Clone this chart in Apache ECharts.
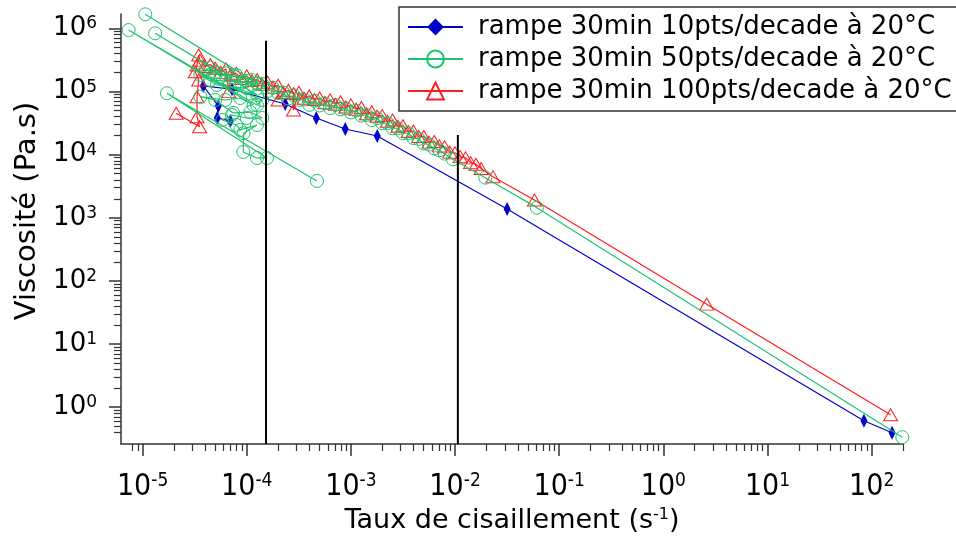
<!DOCTYPE html>
<html><head><meta charset="utf-8">
<script src="https://cdn.jsdelivr.net/npm/echarts@6/dist/echarts.min.js"></script>
<style>html,body{margin:0;padding:0;background:#fff}#c{width:956px;height:546px}</style>
</head><body><div id="c"></div><script>
const FONT = 'DejaVu Sans';
const FONT_X = '"Liberation Sans Narrow", "DejaVu Sans Condensed", "Liberation Sans"';
const X_MIN = 6.2e-6, X_MAX = 200, Y_MIN = 0.26, Y_MAX = 1.7e6;
const xMajorTicks = [1e-5, 1e-4, 1e-3, 1e-2, 1e-1, 1, 10, 100];
const yMajorTicks = [1, 10, 100, 1e3, 1e4, 1e5, 1e6];
const NAME_BLUE = 'rampe 30min 10pts/decade à 20°C';
const NAME_GREEN = 'rampe 30min 50pts/decade à 20°C';
const NAME_RED = 'rampe 30min 100pts/decade à 20°C';
const X_TITLE = 'Taux de cisaillement (s';
const X_TITLE_SUP = '-1';
const Y_TITLE = 'Viscosité (Pa.s)';

// [shear rate, viscosity]
const bluePoints = [[6.95e-5,3.43e4],[5.21e-5,3.82e4],[5.33e-5,5.92e4],[3.82e-5,1.23e5],[7.21e-5,1.09e5],
  [2.34e-4,6.37e4],[4.65e-4,3.82e4],[8.82e-4,2.56e4],[1.79e-3,1.98e4],[3.16e-2,1.38e3],[84.3,0.606],[157,0.391]];

const greenPoints = [[4.72e-4,3.84e3],[1.71e-5,9.43e4],[1.563e-4,8.89e3],[1.253e-4,8.89e3],[9.26e-5,1.106e4],
  [9.32e-5,2.19e4],[1.253e-4,2.96e4],[8.66e-5,2.47e4],[7.93e-5,2.96e4],[5.82e-5,3.55e4],[7.21e-5,4.26e4],
  [1.0e-4,3.82e4],[1.409e-4,3.82e4],[1.08e-4,4.75e4],[7.42e-5,4.59e4],
  [4.98e-5,7.37e4],[3.58e-5,8.31e4],[6.22e-5,7.37e4],[8.66e-5,7.92e4],[1.162e-4,6.14e4],[7.34e-6,9.47e5],
  [1.253e-4,6.14e4],[1.409e-4,7.37e4],
  [3.58e-5,1.834e5],[5.18e-5,1.274e5],[1.0e-4,1.129e5],[1.32e-5,8.4e5],[1.261e-4,8.84e4],[4.46e-5,1.528e5],
  [1.253e-4,1.355e5],[1.06e-5,1.68e6],[1.1e-4,1.55e5],
  [3.98e-5,2.19e5],[4.47e-5,2.40e5],[5.01e-5,2.04e5],[5.62e-5,1.72e5],[6.31e-5,1.95e5],[7.08e-5,1.68e5],
  [7.94e-5,1.82e5],[8.91e-5,1.38e5],[1.0e-4,1.48e5],[1.12e-4,1.27e5],[1.26e-4,1.35e5],[1.41e-4,1.32e5],
  [1.585e-4,1.02e5],[1.78e-4,1.15e5],[2.0e-4,9.55e4],[2.24e-4,9.66e4],[2.51e-4,7.76e4],[2.82e-4,8.71e4],
  [3.16e-4,7.41e4],[3.55e-4,7.50e4],[3.98e-4,6.17e4],[4.47e-4,7.16e4],[5.01e-4,6.03e4],[5.62e-4,6.53e4],
  [6.31e-4,5.50e4],[7.08e-4,6.17e4],[7.94e-4,5.25e4],[8.91e-4,5.43e4],[1.0e-3,4.68e4],[1.12e-3,5.01e4],
  [1.26e-3,4.17e4],[1.41e-3,4.27e4],[1.585e-3,3.55e4],[1.78e-3,3.80e4],[2.0e-3,3.16e4],[2.24e-3,3.16e4],
  [2.51e-3,2.63e4],[2.82e-3,2.63e4],[3.16e-3,2.19e4],[3.55e-3,2.19e4],[3.98e-3,1.84e4],[4.47e-3,1.78e4],
  [5.01e-3,1.51e4],[5.62e-3,1.45e4],[6.31e-3,1.26e4],[7.08e-3,1.17e4],[7.94e-3,1.04e4],
  [9.53e-3,8.47e3],[1.95e-2,4.33e3],[6.1e-2,1.45e3],[197,0.334]];

const redPoints = [[2.1e-5,4.54e4],[3.52e-5,2.78e4],[3.33e-5,4.01e4],[3.33e-5,8.3e4],[3.45e-5,1.53e5],
  [3.2e-5,2.07e5],[3.33e-5,2.64e5],[3.45e-5,3.8e5],
  [3.55e-5,3.16e5],[3.98e-5,2.51e5],[4.47e-5,2.69e5],[5.01e-5,2.34e5],[5.62e-5,2.02e5],[6.31e-5,2.29e5],
  [6.7e-5,1.0e5],[7.08e-5,1.88e5],[7.94e-5,1.95e5],[8.91e-5,1.62e5],[1.0e-4,1.78e5],[1.12e-4,1.50e5],
  [1.26e-4,1.55e5],[1.41e-4,1.29e5],[1.585e-4,1.41e5],[1.78e-4,1.17e5],[2.0e-4,1.26e5],[2.0e-4,7.37e4],
  [2.24e-4,9.66e4],[2.51e-4,1.05e5],[2.82e-4,9.33e4],[2.81e-4,5.12e4],[3.16e-4,9.77e4],[3.55e-4,7.85e4],
  [3.98e-4,8.51e4],[4.47e-4,7.50e4],[5.01e-4,7.94e4],[5.62e-4,6.68e4],[6.31e-4,7.41e4],[7.08e-4,6.31e4],
  [7.94e-4,6.92e4],[8.91e-4,5.69e4],[1.0e-3,6.17e4],[1.12e-3,5.25e4],[1.26e-3,5.62e4],[1.41e-3,4.47e4],
  [1.585e-3,4.79e4],[1.78e-3,4.07e4],[2.0e-3,4.17e4],[2.24e-3,3.39e4],[2.51e-3,3.55e4],[2.82e-3,2.82e4],
  [3.16e-3,2.88e4],[3.55e-3,2.34e4],[3.98e-3,2.37e4],[4.47e-3,1.95e4],[5.01e-3,1.95e4],[5.62e-3,1.585e4],
  [6.31e-3,1.62e4],[7.08e-3,1.38e4],[7.94e-3,1.33e4],[8.91e-3,1.10e4],[1.0e-2,1.07e4],[1.12e-2,9.33e3],
  [1.26e-2,8.91e3],[1.41e-2,7.50e3],[1.585e-2,7.08e3],[1.78e-2,6.03e3],[2.31e-2,4.49e3],[5.78e-2,1.92e3],
  [2.61,42.8],[152,0.755]];

// vertical marker lines: [shear rate, top viscosity]
const markerLineX = [1.53e-4, 1.064e-2];
const markerLineTop = [6.4e5, 2.06e4];

const xMinorTicks = [];
for (let e = -6; e <= 2; e++) for (let k = 2; k <= 9; k++) {
  const v = k * Math.pow(10, e);
  if (v > 7.5e-6 && v <= X_MAX * 1.0001) xMinorTicks.push(v);
}
const yMinorTicks = [];
for (let e = -1; e <= 5; e++) for (let k = 2; k <= 9; k++) {
  const v = k * Math.pow(10, e);
  if (v > 0.35 && v < Y_MAX) yMinorTicks.push(v);
}

const BLUE = '#0000cc', GREEN = '#1ec46c', RED = '#ff1e1e', AXIS = '#333';
function expLabel(v) { return '{b|10}{s|' + Math.round(Math.log10(v)) + '}'; }
const richTickY = {
  b: {fontSize: 26, fontFamily: FONT, color: '#000', lineHeight: 26, padding: [10, 0, 0, 0], verticalAlign: 'bottom'},
  s: {fontSize: 17, fontFamily: FONT, color: '#000', lineHeight: 17, verticalAlign: 'top'}
};
const richTickX = {
  b: {fontSize: 30, fontFamily: FONT_X, color: '#000', lineHeight: 30, padding: [10, 0, 0, 0], verticalAlign: 'bottom'},
  s: {fontSize: 19, fontFamily: FONT_X, color: '#000', lineHeight: 19, verticalAlign: 'top'}
};
const richTitle = {
  b: {fontSize: 27, fontFamily: FONT, color: '#000', lineHeight: 27, padding: [8, 0, 0, 0], verticalAlign: 'bottom'},
  s: {fontSize: 16, fontFamily: FONT, color: '#000', lineHeight: 16, verticalAlign: 'top'}
};

function majorAxis(min, max, ticks, extra) {
  return Object.assign({
    type: 'log', logBase: 10, min: min, max: max, gridIndex: 0,
    axisLine: {show: true, onZero: false, lineStyle: {color: AXIS, width: 1.5}},
    axisTick: {show: true, inside: false, length: 12, customValues: ticks, lineStyle: {color: AXIS, width: 1.5}},
    minorTick: {show: false},
    splitLine: {show: false}
  }, extra);
}
function minorAxis(min, max, ticks, pos) {
  return {
    type: 'log', logBase: 10, min: min, max: max, gridIndex: 0, position: pos,
    axisLine: {show: false, onZero: false},
    axisTick: {show: true, inside: false, length: 7, customValues: ticks, lineStyle: {color: AXIS, width: 1.2}},
    minorTick: {show: false},
    axisLabel: {show: false},
    splitLine: {show: false}
  };
}

const markerSeries = markerLineX.map((x, i) => ({
  type: 'line', silent: true, symbol: 'none', data: [[x, Y_MIN], [x, markerLineTop[i]]],
  lineStyle: {color: '#000', width: 2}, z: 10, emphasis: {disabled: true}
}));

const chart = echarts.init(document.getElementById('c'), null, {renderer: 'canvas'});
chart.setOption({
  animation: false,
  backgroundColor: '#fff',
  grid: {left: 121, right: 53, top: 14, bottom: 102, containLabel: false},
  xAxis: [
    majorAxis(X_MIN, X_MAX, xMajorTicks, {
      position: 'bottom',
      axisLabel: {show: true, customValues: xMajorTicks, formatter: expLabel, rich: richTickX, margin: 28},
      name: '{b|' + X_TITLE + '}{s|' + X_TITLE_SUP + '}{b|)}', nameLocation: 'middle', nameGap: 63,
      nameMoveOverlap: false,
      nameTextStyle: {rich: richTitle}
    }),
    minorAxis(X_MIN, X_MAX, xMinorTicks, 'bottom')
  ],
  yAxis: [
    majorAxis(Y_MIN, Y_MAX, yMajorTicks, {
      position: 'left',
      axisLabel: {show: true, customValues: yMajorTicks, formatter: expLabel, rich: richTickY, margin: 24},
      name: Y_TITLE, nameLocation: 'middle', nameGap: 76,
      nameTextStyle: {fontFamily: FONT, fontSize: 29, color: '#000', padding: [0, 0, 0, 36]}
    }),
    minorAxis(Y_MIN, Y_MAX, yMinorTicks, 'left')
  ],
  legend: {
    data: [NAME_BLUE, NAME_GREEN, NAME_RED], orient: 'vertical', left: 399, top: 7,
    itemWidth: 55, itemHeight: 21, itemGap: 6, padding: [7, 8, 7, 8],
    borderColor: AXIS, borderWidth: 1.5, backgroundColor: '#fff', selectedMode: false,
    textStyle: {fontFamily: FONT, fontSize: 26, color: '#000', lineHeight: 25, padding: [0, 0, 0, 10]}
  },
  series: [
    {name: NAME_BLUE, type: 'line', data: bluePoints, symbol: 'diamond', symbolSize: [7, 14],
     lineStyle: {color: BLUE, width: 1.2}, itemStyle: {color: BLUE}, z: 3, emphasis: {disabled: true}},
    {name: NAME_RED, type: 'line', data: redPoints, symbol: 'triangle', symbolSize: [14, 12],
     lineStyle: {color: RED, width: 1.2}, itemStyle: {color: 'rgba(255,255,255,0)', borderColor: RED, borderWidth: 1},
     z: 4, emphasis: {disabled: true}},
    {name: NAME_GREEN, type: 'line', data: greenPoints, symbol: 'circle', symbolSize: 13,
     lineStyle: {color: GREEN, width: 1.2}, itemStyle: {color: 'rgba(255,255,255,0)', borderColor: GREEN, borderWidth: 1},
     z: 5, emphasis: {disabled: true}}
  ].concat(markerSeries)
});
</script></body></html>
